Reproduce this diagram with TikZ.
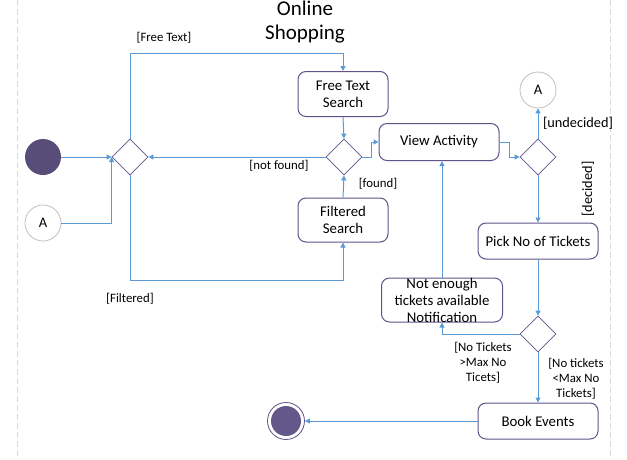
\documentclass[tikz,border=0pt]{standalone}
\usepackage{fontspec}
\setmainfont{Carlito}
\usetikzlibrary{arrows.meta,positioning,shapes.geometric}
\definecolor{flowblue}{HTML}{5B9BD5}
\definecolor{actpurple}{HTML}{5F5389}
\definecolor{startfill}{HTML}{584C78}
\definecolor{stopfill}{HTML}{635889}

\begin{document}
\begin{tikzpicture}[x=1pt,y=-1pt,>={Triangle[length=5pt,width=5pt]},
    flow/.style={->,draw=flowblue,line width=1pt},
    act/.style={draw=actpurple,line width=1pt,rounded corners=8pt,align=center,
      inner sep=0pt,font=\fontsize{14.8}{17}\selectfont},
    choice/.style={diamond,aspect=1,draw=actpurple,line width=0.8pt,
      minimum size=36pt,inner sep=0pt},
    guard/.style={font=\fontsize{12.8}{15}\selectfont,align=center,inner sep=0pt}]
    \useasboundingbox (0,0) rectangle (627,459);

    % lane borders
    \draw[black!15,dash pattern=on 6pt off 3pt] (17,0) -- (17,459);
    \draw[black!15,dash pattern=on 6pt off 3pt] (610,0) -- (610,459);

    \node (title) [font=\fontsize{21}{24}\selectfont,align=center] at (305,22) {Online\\Shopping};

    \node (start)  [circle,fill=startfill,minimum size=36pt,inner sep=0pt] at (43,157) {};
    \node (connIn) [circle,draw=black!25,line width=0.8pt,minimum size=36pt,inner sep=0pt,
      font=\fontsize{14.5}{17}\selectfont] at (43,223) {A};
    \node (merge)  [choice] at (130,157) {};
    \node (free)   [act,minimum width=90pt,minimum height=45pt] at (343,94) {Free Text\\Search};
    \node (found)  [choice] at (344,157) {};
    \node (filt)   [act,minimum width=90pt,minimum height=44pt] at (343,220) {Filtered\\Search};
    \node (view)   [act,minimum width=120pt,minimum height=37pt] at (439,142) {View Activity};
    \node (dec)    [choice] at (538,157) {};
    \node (connOut) [circle,draw=black!25,line width=0.8pt,minimum size=36pt,inner sep=0pt,
      font=\fontsize{14.5}{17}\selectfont] at (538,90) {A};
    \node (pick)   [act,minimum width=120pt,minimum height=36pt] at (538,241) {Pick No of Tickets};
    \node (check)  [choice] at (538,334) {};
    \node (notify) [act,minimum width=121pt,minimum height=44pt] at (442,300) {};
    \node [font=\fontsize{14.8}{17}\selectfont,align=center,inner sep=0pt] at (notify) {Not enough\\tickets available\\Notification};
    \node (book)   [act,minimum width=120pt,minimum height=36pt] at (538,421) {Book Events};
    \node (stop)   [circle,draw=actpurple,line width=0.8pt,minimum size=37pt,inner sep=0pt] at (286,421) {};
    \fill[stopfill] (stop.center) circle (15);

    \coordinate (ftTop) at (343,53);
    \coordinate (fsBot) at (343,280);

    \draw[flow] (start) -- (merge.west);
    \draw[flow] (connIn.east) -| (merge.west);
    \draw[flow] (merge.north) |- (ftTop) -- (free.north);
    \draw[flow] (merge.south) |- (fsBot) -- (filt.south);
    \draw[flow] (free.south) -- (found.north);
    \draw[flow] (filt.north) -- (found.south);
    \draw[flow] (found.west) -- (merge.east);
    \draw[flow] (found.east) -- ++(9,0) |- (view.west);
    \draw[flow] (view.east) -- ++(10,0) |- (dec.west);
    \draw[flow] (dec.north) -- (connOut.south);
    \draw[flow] (dec.south) -- (pick.north);
    \draw[flow] (pick.south) -- (check.north);
    \draw[flow] (check.west) -| (notify.south);
    \draw[flow] (notify.north) -- (notify.north |- view.south);
    \draw[flow] (check.south) -- (book.north);
    \draw[flow] (book.west) -- (stop.east);

    % guards
    \node [guard] at (164,38) {[Free Text]};
    \node [guard] at (130,299) {[Filtered]};
    \node [guard] at (279,166) {[not found]};
    \node [guard] at (378,184) {[found]};
    \node [guard,font=\fontsize{14.3}{17}\selectfont] at (578,123) {[undecided]};
    \node [guard,font=\fontsize{14.3}{17}\selectfont,rotate=90] at (588,189) {[decided]};
    \node [guard] at (483,363) {[No Tickets\\>Max No\\Ticets]};
    \node [guard] at (576,379) {[No tickets\\<Max No\\Tickets]};
\end{tikzpicture}
\end{document}
